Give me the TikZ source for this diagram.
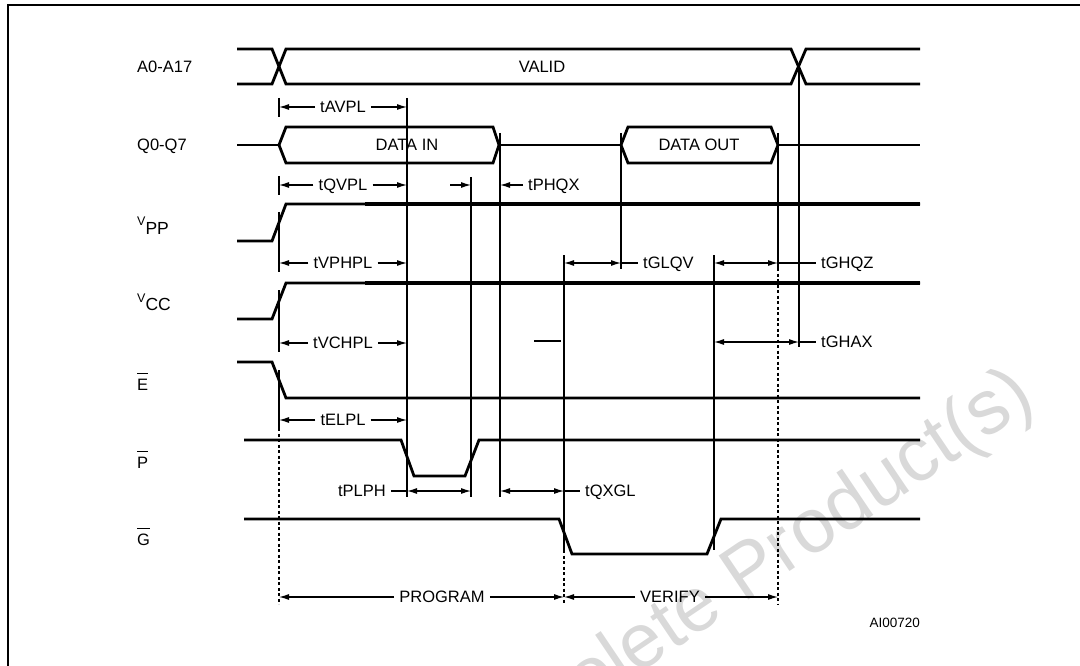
\documentclass[tikz,border=0pt]{standalone}
\usepackage{fontspec}
\setmainfont{Liberation Sans}
\setsansfont{Liberation Sans}
\usepackage{tikz}
\usetikzlibrary{positioning,arrows.meta}
\newcommand{\sigfont}{\fontsize{16.5}{19}\selectfont}
\newcommand{\negsig}[1]{\setbox0\hbox{#1}\rlap{\raisebox{\dimexpr\ht0+4.5pt\relax}{\rule{\wd0}{1.2pt}}}\box0}
\newcommand{\vsub}[1]{\raisebox{8.5pt}{\fontsize{12.5}{13}\selectfont V}{\fontsize{17.5}{19}\selectfont #1}}
\tikzset{
  wave/.style    = {line width=2.8pt},
  heavy/.style   = {line width=4pt},
  guide/.style   = {line width=1.1pt},
  dotguide/.style = {line width=1.1pt, dash pattern=on 3pt off 2.5pt},
  tarrow/.style  = {guide, -{Latex[length=10pt,width=6pt]}},
  tspan/.style   = {guide, {Latex[length=10pt,width=6pt]}-{Latex[length=10pt,width=6pt]}},
  sig/.style     = {font=\sigfont, inner sep=0pt, anchor=base west},
  bus/.style     = {font=\sigfont, inner sep=0pt, anchor=base},
  tlab/.style    = {font=\sigfont, inner sep=5pt, text height=11.8pt, text depth=0pt}
}

\begin{document}
\begin{tikzpicture}[x=1pt,y=-1pt]
  \useasboundingbox (0,0) rectangle (1080,666);
  % watermark
  \node[font=\fontsize{77}{80}\selectfont, text=black!15, rotate=34,
        anchor=base west, inner sep=0pt] (mark) at (470,788) {Obsolete Product(s)};
  % frame
  \draw[line width=2pt] (7.5,672) -- (7.5,5) -- (1086,5);

  % time marks
  \coordinate (t0) at (279,0);
  \coordinate (t1) at (407,0);
  \coordinate (t2) at (471,0);
  \coordinate (t3) at (500,0);
  \coordinate (t4) at (564,0);
  \coordinate (t5) at (621,0);
  \coordinate (t6) at (714,0);
  \coordinate (t7) at (778,0);
  \coordinate (t8) at (799,0);

  % signal names
  \node[sig] (a) at (137,72.5) {A0-A17};
  \node[sig] (q) at (137,151) {Q0-Q7};
  \node[sig] (vpp) at (137,234) {\vsub{PP}};
  \node[sig] (vcc) at (137,310.5) {\vsub{CC}};
  \node[sig] (e) at (137,390) {\negsig{E}};
  \node[sig] (p) at (137,468) {\negsig{P}};
  \node[sig] (g) at (137,545) {\negsig{G}};

  % waveforms
  \draw[wave] (237,49) -- (272,49) -- (286,84) -- (791,84) -- (806,49) -- (920,49);
  \draw[wave] (237,84) -- (272,84) -- (286,49) -- (791,49) -- (806,84) -- (920,84);
  \node[bus] (valid) at (542,72.5) {VALID};

  \draw[wave] (237,145) -- (279,145);
  \draw[wave] (279,145) -- (286,127) -- (493,127) -- (499,145) -- (493,163) -- (286,163) -- cycle;
  \draw[wave] (499,145) -- (621,145);
  \draw[wave] (621,145) -- (628,127) -- (771,127) -- (778,145) -- (771,163) -- (628,163) -- cycle;
  \draw[wave] (778,145) -- (920,145);
  \node[bus] (din) at (407,151) {DATA IN};
  \node[bus] (dout) at (699,151) {DATA OUT};

  \draw[wave] (237,241) -- (272,241) -- (286,204) -- (920,204);
  \draw[heavy] (365,204) -- (920,204);
  \draw[wave] (237,319) -- (272,319) -- (286,283) -- (920,283);
  \draw[heavy] (365,283) -- (920,283);
  \draw[wave] (237,362) -- (272,362) -- (286,398) -- (920,398);
  \draw[wave] (244,440) -- (401,440) -- (414,476) -- (465,476) -- (479,440) -- (920,440);
  \draw[wave] (244,519) -- (559,519) -- (572,554) -- (707,554) -- (721,519) -- (920,519);

  % guide lines
  \draw[guide] (279,98) -- (279,117) (279,176) -- (279,195) (279,212) -- (279,272)
               (279,290) -- (279,352) (279,370) -- (279,428);
  \draw[dotguide] (279,428) -- (279,604);
  \draw[guide] (407,98) -- (407,497);
  \draw[guide] (471,177) -- (471,497);
  \draw[guide] (500,133) -- (500,497);
  \draw[guide] (564,255) -- (564,550);
  \draw[dotguide] (564,550) -- (564,604);
  \draw[guide] (621,133) -- (621,269);
  \draw[guide] (714,255) -- (714,550);
  \draw[guide] (778,133) -- (778,268);
  \draw[dotguide] (778,268) -- (778,604);
  \draw[guide] (799,67) -- (799,347);
  \draw[guide] (534,341) -- (561,341);

  % timings
  \node[tlab] (avpl) at (343,107) {tAVPL};
  \draw[tarrow] (avpl.west) -- (avpl.west -| t0);
  \draw[tarrow] (avpl.east) -- (avpl.east -| t1);
  \node[tlab] (qvpl) at (343,185) {tQVPL};
  \draw[tarrow] (qvpl.west) -- (qvpl.west -| t0);
  \draw[tarrow] (qvpl.east) -- (qvpl.east -| t1);
  \node[tlab] (vphpl) at (343,263) {tVPHPL};
  \draw[tarrow] (vphpl.west) -- (vphpl.west -| t0);
  \draw[tarrow] (vphpl.east) -- (vphpl.east -| t1);
  \node[tlab] (vchpl) at (343,343) {tVCHPL};
  \draw[tarrow] (vchpl.west) -- (vchpl.west -| t0);
  \draw[tarrow] (vchpl.east) -- (vchpl.east -| t1);
  \node[tlab] (elpl) at (343,420) {tELPL};
  \draw[tarrow] (elpl.west) -- (elpl.west -| t0);
  \draw[tarrow] (elpl.east) -- (elpl.east -| t1);

  \node[tlab, anchor=west] (phqx) at (523,185) {tPHQX};
  \coordinate (phqxin) at (450,185);
  \draw[tarrow] (phqxin) -- (phqxin -| t2);
  \draw[tarrow] (phqx.west) -- (phqx.west -| t3);

  \node[tlab, anchor=west] (glqv) at (638,263) {tGLQV};
  \draw[tspan] (glqv.west -| t4) -- (glqv.west -| t5);
  \draw[guide] (glqv.west -| t5) -- (glqv.west);
  \node[tlab, anchor=west] (ghqz) at (816,263) {tGHQZ};
  \draw[tspan] (ghqz.west -| t6) -- (ghqz.west -| t7);
  \draw[guide] (ghqz.west -| t7) -- (ghqz.west);
  \node[tlab, anchor=west] (ghax) at (816,342) {tGHAX};
  \draw[tspan] (ghax.west -| t6) -- (ghax.west -| t8);
  \draw[guide] (ghax.west -| t8) -- (ghax.west);

  \node[tlab, anchor=east] (plph) at (391,491) {tPLPH};
  \draw[guide] (plph.east) -- (plph.east -| t1);
  \draw[tspan] (plph.east -| t1) -- (plph.east -| t2);
  \node[tlab, anchor=west] (qxgl) at (580,491) {tQXGL};
  \draw[tspan] (qxgl.west -| t3) -- (qxgl.west -| t4);
  \draw[guide] (qxgl.west -| t4) -- (qxgl.west);

  \node[tlab] (prog) at (442,597) {PROGRAM};
  \draw[tarrow] (prog.west) -- (prog.west -| t0);
  \draw[tarrow] (prog.east) -- (prog.east -| t4);
  \node[tlab] (verify) at (670,597) {VERIFY};
  \draw[tarrow] (verify.west) -- (verify.west -| t4);
  \draw[tarrow] (verify.east) -- (verify.east -| t7);

  \node[font=\fontsize{13.5}{15}\selectfont, inner sep=0pt, anchor=base east] (code) at (920,627) {AI00720};
\end{tikzpicture}
\end{document}
